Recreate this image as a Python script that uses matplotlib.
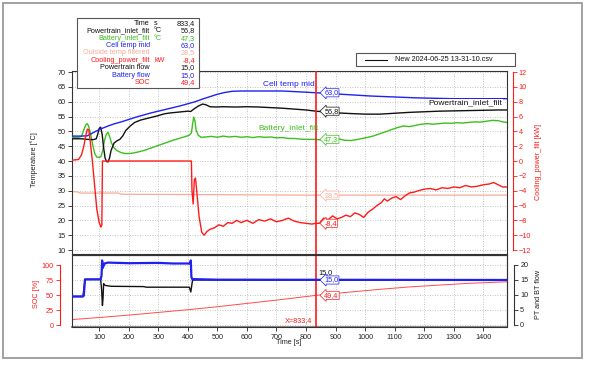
import matplotlib
matplotlib.use('Agg')
import matplotlib.pyplot as plt
from matplotlib.patches import Rectangle
from matplotlib.lines import Line2D

plt.rcParams['font.family'] = ['Liberation Sans', 'DejaVu Sans']

W, H = 589, 366
fig = plt.figure(figsize=(W / 100, H / 100), dpi=100)


def fx(x):
    return x / W


def fy(y):
    return 1 - y / H


# ---------------- data ----------------
cursor_t = 833.4

cell_t = [5, 40, 60, 75, 90, 110, 130, 150, 175, 200, 225, 250, 275, 300, 325, 350, 375, 400, 425, 450,
          475, 500, 525, 550, 580, 650, 720, 760, 800, 833, 870, 920, 970, 1020, 1070, 1120, 1170, 1210,
          1300, 1400, 1480]
cell_v = [48.4, 48.4, 48.5, 49.3, 50.1, 51.0, 51.8, 52.5, 53.2, 54.0, 54.8, 55.5, 56.2, 56.8, 57.4, 58.0,
          58.6, 59.3, 60.0, 60.9, 61.7, 62.5, 63.1, 63.5, 63.6, 63.6, 63.6, 63.4, 63.2, 63.0, 62.8, 62.5,
          62.2, 61.9, 61.7, 61.5, 61.3, 61.2, 61.0, 61.0, 61.0]

pt_t = [5, 40, 60, 80, 90, 95, 100, 105, 110, 115, 120, 125, 130, 135, 140, 150, 160, 170, 180, 190, 205,
        220, 240, 260, 280, 300, 320, 340, 360, 380, 400, 410, 420, 435, 450, 460, 475, 495, 520, 560, 600,
        640, 680, 720, 760, 800, 833, 870, 910, 950, 1000, 1050, 1100, 1150, 1200, 1250, 1300, 1350, 1400,
        1450, 1480]
pt_v = [47.5, 47.5, 47.3, 47.2, 47.5, 49.0, 51.0, 51.4, 49.0, 44.5, 41.0, 39.8, 39.7, 41.0, 43.5, 46.0,
        46.8, 47.3, 48.5, 50.3, 51.8, 53.0, 53.8, 54.3, 54.8, 55.3, 55.9, 56.2, 56.4, 56.6, 56.8, 56.7,
        57.5, 58.5, 59.2, 59.0, 58.3, 58.2, 58.3, 58.2, 58.3, 58.2, 58.0, 57.8, 57.5, 57.2, 56.8, 56.5,
        56.2, 56.0, 55.8, 55.8, 56.1, 56.4, 56.6, 56.8, 56.9, 57.0, 57.1, 57.2, 57.2]

bat_t = [5, 30, 40, 48, 55, 60, 65, 72, 78, 85, 92, 100, 106, 112, 118, 124, 130, 136, 142, 150, 160, 175,
         190, 210, 230, 250, 270, 290, 310, 330, 350, 370, 390, 405, 412, 417, 420, 424, 428, 435, 445, 460,
         480, 500, 520, 540, 560, 580, 600, 620, 640, 660, 680, 700, 720, 740, 760, 780, 800, 833, 850,
         870, 890, 910, 930, 950, 970, 990, 1010, 1030, 1050, 1070, 1090, 1110, 1130, 1150, 1170, 1190,
         1210, 1230, 1250, 1270, 1290, 1310, 1330, 1350, 1370, 1390, 1410, 1430, 1450, 1465, 1480]
bat_v = [48.0, 48.0, 48.3, 50.5, 52.3, 52.6, 51.5, 48.5, 45.5, 42.5, 41.3, 41.2, 41.5, 43.5, 47.0, 49.0,
         49.7, 48.0, 46.0, 44.5, 43.5, 42.8, 42.5, 42.6, 43.0, 43.5, 44.2, 44.9, 45.6, 46.3, 47.0, 47.6,
         48.2, 48.7, 49.5, 53.0, 54.8, 53.5, 50.5, 48.7, 48.0, 48.1, 48.3, 48.0, 48.4, 48.1, 48.3, 48.0,
         48.2, 47.9, 48.2, 48.0, 48.1, 47.8, 47.9, 47.6, 47.6, 47.4, 47.3, 47.3, 47.1, 47.4, 47.2, 47.5,
         47.0, 46.9, 47.2, 47.6, 48.0, 48.5, 49.2, 49.9, 50.6, 51.3, 51.8, 51.6, 52.0, 52.4, 52.6, 52.4,
         52.6, 52.8, 52.7, 52.9, 52.8, 53.0, 53.2, 53.1, 53.4, 53.7, 53.6, 53.2, 53.0]

out_t = [5, 25, 35, 165, 175, 400, 800, 1480]
out_v = [29.7, 29.6, 29.2, 29.2, 28.8, 28.7, 28.5, 28.5]

cool_t = [5, 30, 40, 48, 55, 60, 65, 70, 77, 85, 92, 100, 106, 109, 111, 412, 414, 418, 422, 426, 430, 438,
          447, 455, 465, 475, 490, 505, 520, 535, 550, 565, 580, 600, 620, 640, 660, 680, 700, 720, 740,
          760, 780, 800, 820, 833, 845, 860, 875, 890, 905, 920, 935, 950, 965, 980, 995, 1010, 1025, 1040,
          1055, 1065, 1075, 1090, 1105, 1120, 1135, 1150, 1165, 1180, 1200, 1220, 1240, 1260, 1280, 1300,
          1320, 1340, 1360, 1380, 1400, 1420, 1435, 1450, 1465, 1480]
cool_v = [0.1, 0.2, 0.8, 2.0, 3.5, 4.3, 4.2, 2.5, 0.0, -3.5, -6.5, -8.3, -8.9, -8.6, 0.0, 0.0, -4.0, -5.8,
          -2.5, -2.3, -4.0, -7.5, -9.6, -10.0, -9.5, -9.2, -9.0, -8.6, -8.8, -8.3, -8.4, -8.0, -8.3, -8.0,
          -8.4, -7.9, -8.1, -7.8, -8.2, -8.0, -7.7, -8.1, -8.3, -8.4, -8.5, -8.4, -8.4, -7.7, -7.9, -7.4,
          -7.8, -7.6, -7.3, -7.5, -7.0, -7.2, -7.6, -6.9, -6.5, -6.0, -5.6, -5.1, -5.4, -5.0, -4.8, -5.2,
          -4.7, -4.3, -4.2, -4.0, -3.8, -3.7, -3.9, -3.6, -3.7, -3.5, -3.6, -3.3, -3.5, -3.4, -3.2, -3.1,
          -2.9, -3.2, -3.5, -3.5]

bflow_t = [5, 45, 48, 52, 105, 108, 110, 112, 118, 130, 200, 300, 350, 408, 410, 412, 415, 500, 1480]
bflow_v = [9.5, 9.5, 9.8, 15.2, 15.2, 16.5, 21.5, 19.0, 20.5, 20.8, 20.6, 20.7, 20.5, 20.5, 21.5, 16.0,
           15.3, 15.1, 15.0]

pflow_t = [5, 45, 52, 105, 108, 111, 113, 115, 120, 140, 250, 260, 405, 410, 413, 416, 1480]
pflow_v = [9.5, 9.5, 15.2, 15.2, 12.0, 6.5, 9.0, 13.8, 13.2, 12.9, 12.8, 12.6, 12.6, 11.0, 13.0, 15.0, 15.0]

soc_t = [5, 100, 200, 300, 400, 500, 600, 700, 833, 950, 1050, 1150, 1250, 1350, 1480]
soc_v = [9, 12.5, 16.5, 21, 25.5, 30.5, 36, 41.5, 49.4, 55, 59.5, 63.5, 66.5, 69.5, 72]

legend_names = ['Time', 'Powertrain_inlet_filt', 'Battery_inlet_filt', 'Cell temp mid',
                'Outside temp filtered', 'Cooling_power_filt', 'Powertrain flow', 'Battery flow', 'SOC']
legend_units = ['s', '°C', '°C', '', '', 'kW', '', '', '']
legend_values = ['833,4', '56,8', '47,3', '63,0', '28,5', '-8,4', '15,0', '15,0', '49,4']

x_ticks = list(range(100, 1500, 100))

# ---------------- styles ----------------
BLUE = '#2020f0'
GREEN = '#3cbf1e'
RED = '#ff1a1a'
SALMON = '#f7ad97'
BLACK = '#111111'
legend_colors = [BLACK, BLACK, GREEN, BLUE, SALMON, RED, BLACK, BLUE, RED]
FS = 5.2
FS_LBL = 6.0
GRID = dict(color='#b0b0b0', linestyle=(0, (1, 2)), linewidth=0.6)
XLIM = (8, 1480)

# outer frame
fig.patches.append(Rectangle((fx(3), fy(358)), fx(582) - fx(3), fy(3) - fy(358), transform=fig.transFigure,
                             fill=False, ec='#9a9a9a', lw=1.3))

# ---------------- top panel ----------------
ax1 = fig.add_axes([fx(72), fy(254), fx(507) - fx(72), fy(71) - fy(254)])
ax1.set_xlim(*XLIM)
ax1.set_ylim(8.66, 70.34)
ax1.set_xticks(x_ticks)
ax1.set_yticks(range(10, 75, 5))
ax1.tick_params(axis='x', length=0, labelbottom=False)
ax1.tick_params(axis='y', labelsize=FS, length=3, width=0.6, pad=1.5, colors='#222222')
ax1.grid(True, **GRID)
for s in ax1.spines.values():
    s.set_color('#333333')
    s.set_linewidth(0.8)

ax1r = ax1.twinx()
ax1r.set_ylim((8.66 - 40) / 2.5, (70.34 - 40) / 2.5)
ax1r.set_yticks(range(-12, 13, 2))
for k in ['left', 'top', 'bottom']:
    ax1r.spines[k].set_visible(False)
ax1r.spines['right'].set_position(('outward', 4))
ax1r.spines['right'].set_color(RED)
ax1r.spines['right'].set_bounds(-12, 12)
ax1r.tick_params(axis='y', labelsize=FS, length=3, width=0.6, pad=1.5, colors=RED)

ax1.plot(out_t, out_v, color=SALMON, lw=0.9, zorder=2)
ax1.plot(bat_t, bat_v, color=GREEN, lw=1.0, zorder=3)
ax1.plot(pt_t, pt_v, color=BLACK, lw=1.0, zorder=3)
ax1.plot(cell_t, cell_v, color=BLUE, lw=1.0, zorder=3)
ax1r.plot(cool_t, cool_v, color=RED, lw=1.0, zorder=3)
ax1.axvline(cursor_t, color=RED, lw=1.2, zorder=5)

ax1.text(655, 65.7, 'Cell temp mid', color=BLUE, fontsize=FS_LBL, ha='left', va='center', zorder=6)
ax1.text(640, 51.0, 'Battery_inlet_filt', color=GREEN, fontsize=FS_LBL, ha='left', va='center', zorder=6)
ax1.text(1215, 59.6, 'Powertrain_inlet_filt', color=BLACK, fontsize=FS_LBL, ha='left', va='center',
         zorder=6, bbox=dict(boxstyle='square,pad=0.1', fc='white', ec='none'))


def tag(ax, y, txt, color):
    ax.annotate(txt, xy=(cursor_t, y), xytext=(6, 0), textcoords='offset points', color=color,
                fontsize=FS, ha='left', va='center', zorder=7,
                bbox=dict(boxstyle='larrow,pad=0.08', fc='white', ec=color, lw=0.5))


tag(ax1, 63.0, '63,0', BLUE)
tag(ax1, 56.8, '56,8', BLACK)
tag(ax1, 47.3, '47,3', GREEN)
tag(ax1, 28.5, '28,5', SALMON)
tag(ax1r, -8.4, '-8,4', RED)

# ---------------- bottom panel ----------------
ax2 = fig.add_axes([fx(72), fy(327), fx(507) - fx(72), fy(255) - fy(327)])
ax2.set_xlim(*XLIM)
ax2.set_ylim(-3.3, 116.7)
ax2.set_xticks(x_ticks)
ax2.set_yticks([0, 25, 50, 75, 100])
ax2.grid(True, **GRID)
ax2.tick_params(axis='x', labelsize=FS, length=3, width=0.6, pad=2, colors='#222222')
ax2.tick_params(axis='y', labelsize=FS, length=3, width=0.6, pad=1.5, colors=RED)
for k in ['top', 'right']:
    ax2.spines[k].set_color('#333333')
    ax2.spines[k].set_linewidth(0.8)
ax2.spines['bottom'].set_color('#888888')
ax2.spines['bottom'].set_linewidth(1.4)
ax2.spines['left'].set_position(('outward', 9))
ax2.spines['left'].set_color(RED)
ax2.spines['left'].set_bounds(0, 100)
ax2.add_patch(Rectangle((0, 0), 1, 1, transform=ax2.transAxes, fill=False, ec='#333333', lw=0.8,
                        clip_on=False, zorder=8))

ax2r = ax2.twinx()
ax2r.set_ylim(-0.67, 23.33)
ax2r.set_yticks([0, 5, 10, 15, 20])
for k in ['left', 'top', 'bottom']:
    ax2r.spines[k].set_visible(False)
ax2r.spines['right'].set_position(('outward', 5))
ax2r.spines['right'].set_color('#333333')
ax2r.spines['right'].set_bounds(0, 20)
ax2r.tick_params(axis='y', labelsize=FS, length=3, width=0.6, pad=1.5, colors='#222222')

ax2.plot(soc_t, soc_v, color='#ff4a4a', lw=0.7, zorder=3)
ax2r.plot(pflow_t, pflow_v, color=BLACK, lw=1.0, zorder=3)
ax2r.plot(bflow_t, bflow_v, color=BLUE, lw=1.6, zorder=4)
ax2.axvline(cursor_t, color=RED, lw=1.2, zorder=5)

ax2.text(cursor_t - 12, 2, 'X=833,4', color=RED, fontsize=FS, ha='right', va='bottom', zorder=6)
ax2r.text(cursor_t + 8, 17.6, '15,0', color=BLACK, fontsize=FS, ha='left', va='center', zorder=7)
tag(ax2r, 15.0, '15,0', BLUE)
tag(ax2, 49.4, '49,4', RED)

# ---------------- axis labels ----------------
fig.text(fx(34), fy(160), 'Temperature [°C]', rotation=90, fontsize=FS, ha='center', va='center',
         color='#222222')
fig.text(fx(538), fy(162), 'Cooling_power_filt [kW]', rotation=90, fontsize=FS, ha='center', va='center',
         color=RED)
fig.text(fx(37), fy(294), 'SOC [%]', rotation=90, fontsize=FS, ha='center', va='center', color=RED)
fig.text(fx(539), fy(294), 'PT and BT flow', rotation=90, fontsize=FS, ha='center', va='center',
         color='#222222')
fig.text(fx(289), fy(343), 'Time [s]', fontsize=FS, ha='center', va='center', color='#222222')

# ---------------- cursor value box ----------------
fig.patches.append(Rectangle((fx(77), fy(88)), fx(199) - fx(77), fy(18) - fy(88), transform=fig.transFigure,
                             fc='white', ec='#555555', lw=0.8, zorder=10))
for i, (n, u, v, c) in enumerate(zip(legend_names, legend_units, legend_values, legend_colors)):
    yy = fy(23.3 + i * 7.42)
    fig.text(fx(150), yy, n, color=c, fontsize=FS, ha='right', va='center', zorder=11)
    fig.text(fx(154), yy, u, color=c, fontsize=FS, ha='left', va='center', zorder=11)
    fig.text(fx(195), yy, v, color=c, fontsize=FS, ha='right', va='center', zorder=11)

# ---------------- file legend ----------------
fig.patches.append(Rectangle((fx(356), fy(65.7)), fx(515) - fx(356), fy(53.3) - fy(65.7),
                             transform=fig.transFigure, fc='white', ec='#555555', lw=0.8, zorder=10))
fig.lines.append(Line2D([fx(365), fx(387)], [fy(59.5), fy(59.5)], transform=fig.transFigure,
                        color=BLACK, lw=0.8, zorder=11))
fig.text(fx(395), fy(59.5), 'New 2024-06-25 13-31-10.csv', fontsize=FS, ha='left', va='center',
         color=BLACK, zorder=11)

fig.savefig('out.png', dpi=100)
